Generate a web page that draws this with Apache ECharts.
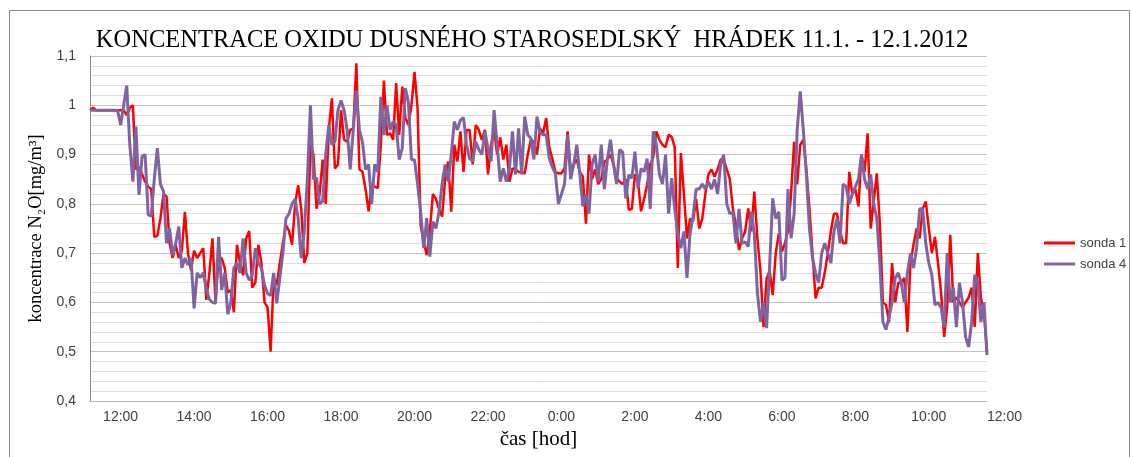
<!DOCTYPE html>
<html>
<head>
<meta charset="utf-8">
<script src="https://cdn.jsdelivr.net/npm/echarts@6/dist/echarts.min.js"></script>
<style>
html,body{margin:0;padding:0;background:#fff;}
#c{width:1132px;height:457px;}
</style>
</head>
<body>
<div id="c"></div>
<script>
// sonda 1 (red), 5-minute samples from 11:10
const sonda1 = [
0.99,0.995,0.99,0.99,0.99,0.99,0.99,0.99,0.99,0.99,
0.99,0.99,0.98,0.995,1.0,0.87,0.875,0.86,0.845,0.835,
0.83,0.733,0.735,0.77,0.82,0.815,0.72,0.69,0.717,0.69,
0.705,0.784,0.7,0.665,0.705,0.69,0.7,0.71,0.605,0.66,
0.73,0.6,0.69,0.69,0.67,0.62,0.625,0.58,0.717,0.68,
0.655,0.73,0.745,0.63,0.64,0.717,0.68,0.6,0.59,0.5,
0.65,0.635,0.68,0.72,0.757,0.745,0.717,0.8,0.838,0.79,
0.68,0.7,0.92,0.9,0.79,0.82,0.89,0.8,0.95,1.014,
0.872,0.88,0.99,0.93,0.926,0.95,0.953,1.085,0.87,0.865,
0.83,0.785,0.835,0.835,0.832,0.92,1.05,0.94,0.943,0.93,
1.045,0.94,1.038,0.975,0.96,1.0,1.068,0.994,0.757,0.723,
0.696,0.744,0.82,0.81,0.79,0.774,0.85,0.886,0.784,0.92,
0.886,0.947,0.865,0.95,0.95,0.88,0.96,0.95,0.93,0.95,
0.86,0.92,0.95,0.9,0.935,0.89,0.92,0.845,0.872,0.869,
0.865,0.863,0.862,0.9,0.93,0.926,0.9,0.953,0.943,0.974,
0.915,0.892,0.865,0.862,0.862,0.872,0.947,0.87,0.88,0.89,
0.865,0.855,0.76,0.9,0.85,0.87,0.84,0.85,0.885,0.89,
0.9,0.88,0.852,0.845,0.84,0.85,0.788,0.79,0.86,0.845,
0.785,0.81,0.84,0.88,0.895,0.947,0.93,0.92,0.915,0.94,
0.936,0.915,0.67,0.903,0.82,0.73,0.77,0.765,0.81,0.75,
0.77,0.82,0.86,0.87,0.855,0.87,0.89,0.89,0.87,0.85,
0.79,0.757,0.706,0.73,0.744,0.791,0.744,0.825,0.73,0.663,
0.55,0.649,0.663,0.615,0.7,0.74,0.703,0.72,0.745,0.82,
0.926,0.84,0.92,0.93,0.87,0.79,0.7,0.608,0.63,0.63,
0.66,0.7,0.744,0.78,0.78,0.745,0.72,0.72,0.865,0.82,
0.83,0.795,0.9,0.865,0.943,0.75,0.805,0.862,0.76,0.6,
0.595,0.56,0.68,0.6,0.64,0.64,0.65,0.54,0.68,0.717,
0.75,0.73,0.79,0.805,0.75,0.7,0.733,0.68,0.62,0.53,
0.59,0.737,0.6,0.61,0.6,0.59,0.6,0.61,0.63,0.55,
0.7,0.61,0.58,0.5
];
// sonda 4 (purple)
const sonda4 = [
0.99,0.99,0.99,0.99,0.99,0.99,0.99,0.99,0.99,0.99,
0.96,1.0,1.04,0.92,0.845,0.957,0.818,0.896,0.9,0.778,
0.775,0.85,0.913,0.84,0.825,0.72,0.75,0.696,0.72,0.754,
0.67,0.69,0.676,0.69,0.588,0.66,0.65,0.66,0.627,0.606,
0.6,0.598,0.733,0.625,0.66,0.576,0.6,0.67,0.68,0.66,
0.73,0.66,0.645,0.655,0.71,0.68,0.67,0.635,0.618,0.614,
0.66,0.598,0.65,0.7,0.77,0.78,0.8,0.81,0.77,0.69,
0.745,0.85,1.0,0.85,0.853,0.8,0.805,0.9,0.96,0.92,
0.926,0.99,1.01,0.99,0.95,0.87,0.95,1.03,0.95,0.925,
0.87,0.88,0.8,0.88,0.865,1.017,0.94,1.0,0.95,0.967,
0.96,0.89,0.913,1.035,1.007,0.89,0.889,0.84,0.784,0.71,
0.771,0.693,0.764,0.75,0.784,0.84,0.88,0.845,0.9,0.967,
0.95,0.97,0.975,0.92,0.892,0.886,0.926,0.91,0.9,0.947,
0.913,0.886,0.99,0.92,0.845,0.872,0.845,0.872,0.947,0.86,
0.953,0.86,0.977,0.94,0.933,0.89,0.977,0.945,0.94,0.94,
0.893,0.875,0.862,0.8,0.82,0.84,0.94,0.85,0.88,0.92,
0.86,0.795,0.82,0.78,0.88,0.9,0.845,0.92,0.83,0.89,
0.93,0.88,0.84,0.91,0.905,0.811,0.859,0.852,0.906,0.832,
0.872,0.865,0.892,0.79,0.947,0.92,0.86,0.84,0.9,0.78,
0.852,0.79,0.74,0.71,0.744,0.65,0.74,0.775,0.83,0.83,
0.84,0.83,0.845,0.83,0.85,0.82,0.88,0.9,0.8,0.78,
0.783,0.72,0.79,0.72,0.723,0.713,0.784,0.74,0.62,0.561,
0.6,0.548,0.676,0.811,0.77,0.784,0.645,0.65,0.83,0.73,
0.78,0.95,1.028,0.95,0.86,0.75,0.69,0.66,0.64,0.7,
0.72,0.7,0.68,0.744,0.77,0.72,0.84,0.835,0.8,0.82,
0.835,0.85,0.9,0.85,0.83,0.86,0.8,0.77,0.68,0.56,
0.545,0.57,0.6,0.649,0.66,0.64,0.6,0.66,0.7,0.67,
0.71,0.79,0.79,0.72,0.68,0.655,0.595,0.6,0.59,0.55,
0.7,0.6,0.63,0.55,0.64,0.6,0.53,0.51,0.56,0.656,
0.64,0.56,0.6,0.493
];
const tickLabels = ['12:00','14:00','16:00','18:00','20:00','22:00','0:00','2:00','4:00','6:00','8:00','10:00','12:00'];
const yTicks = { min: 0.4, max: 1.1, step: 0.1 };

// category axis: sample times (5 min steps starting 11:10)
const times = [];
for (let k = 0; k < sonda1.length; k++) {
  const m = 11 * 60 + 10 + 5 * k;
  const h = Math.floor(m / 60) % 24, mm = m % 60;
  times.push(h + ':' + String(mm).padStart(2, '0'));
}
const lastTime = times[times.length - 1];

const chart = echarts.init(document.getElementById('c'), null, { renderer: 'canvas' });
const serif = '"Liberation Serif", "DejaVu Serif", serif';
const sans = '"Liberation Sans", Arial, sans-serif';
chart.setOption({
  animation: false,
  backgroundColor: '#ffffff',
  title: {
    text: 'KONCENTRACE OXIDU DUSNÉHO STAROSEDLSKÝ  HRÁDEK 11.1. - 12.1.2012',
    left: 527, textAlign: 'center', top: 23,
    textStyle: { fontFamily: serif, fontWeight: 'normal', fontSize: 24.5, color: '#000' }
  },
  graphic: [{
    type: 'rect', left: 7, top: 8, z: -1,
    shape: { width: 1120, height: 470 },
    style: { fill: 'none', stroke: '#8a8a8a', lineWidth: 1 }
  }],
  legend: {
    orient: 'vertical', left: 1044, top: 236, itemGap: 7, padding: 0,
    itemWidth: 31, itemHeight: 3, icon: 'rect',
    textStyle: { fontFamily: sans, fontSize: 13, color: '#404040', lineHeight: 14 },
    data: ['sonda 1', 'sonda 4']
  },
  grid: { left: 90, right: 145, top: 56, bottom: 56, containLabel: false },
  xAxis: {
    type: 'category', data: times, boundaryGap: false,
    name: 'čas [hod]', nameLocation: 'middle', nameGap: 25,
    nameTextStyle: { fontFamily: serif, fontSize: 21, color: '#000' },
    axisLine: { show: true, lineStyle: { color: '#bcbcbc', width: 1 } },
    axisTick: { show: false },
    splitLine: { show: false },
    axisLabel: {
      fontFamily: sans, fontSize: 14, color: '#404040', margin: 9,
      showMaxLabel: true, alignMaxLabel: 'left',
      interval: function (i, v) { return tickLabels.indexOf(v) >= 0 || v === lastTime; },
      formatter: function (v) { return v === lastTime ? tickLabels[tickLabels.length - 1] : v; }
    }
  },
  yAxis: {
    type: 'value', min: yTicks.min, max: yTicks.max, interval: yTicks.step,
    name: 'koncentrace N₂O[mg/m³]', nameLocation: 'middle', nameGap: 32,
    nameTextStyle: { fontFamily: serif, fontSize: 18.5, color: '#000' },
    axisLine: { show: true, lineStyle: { color: '#8a8a8a', width: 1 } },
    axisTick: { show: false },
    axisLabel: {
      fontFamily: sans, fontSize: 14, color: '#404040', margin: 14,
      formatter: function (v) { return String(Math.round(v * 10) / 10).replace('.', ','); }
    },
    splitLine: { show: true, lineStyle: { color: '#c4c4c4', width: 1 } },
    minorTick: { show: false, splitNumber: 5 },
    minorSplitLine: { show: true, lineStyle: { color: '#dedede', width: 1 } }
  },
  series: [
    { name: 'sonda 1', type: 'line', data: sonda1, symbol: 'none', showSymbol: false,
      lineStyle: { color: '#ff0000', width: 2.5 }, itemStyle: { color: '#ff0000' } },
    { name: 'sonda 4', type: 'line', data: sonda4, symbol: 'none', showSymbol: false,
      lineStyle: { color: '#8064a2', width: 3 }, itemStyle: { color: '#8064a2' } }
  ]
});
</script>
</body>
</html>
